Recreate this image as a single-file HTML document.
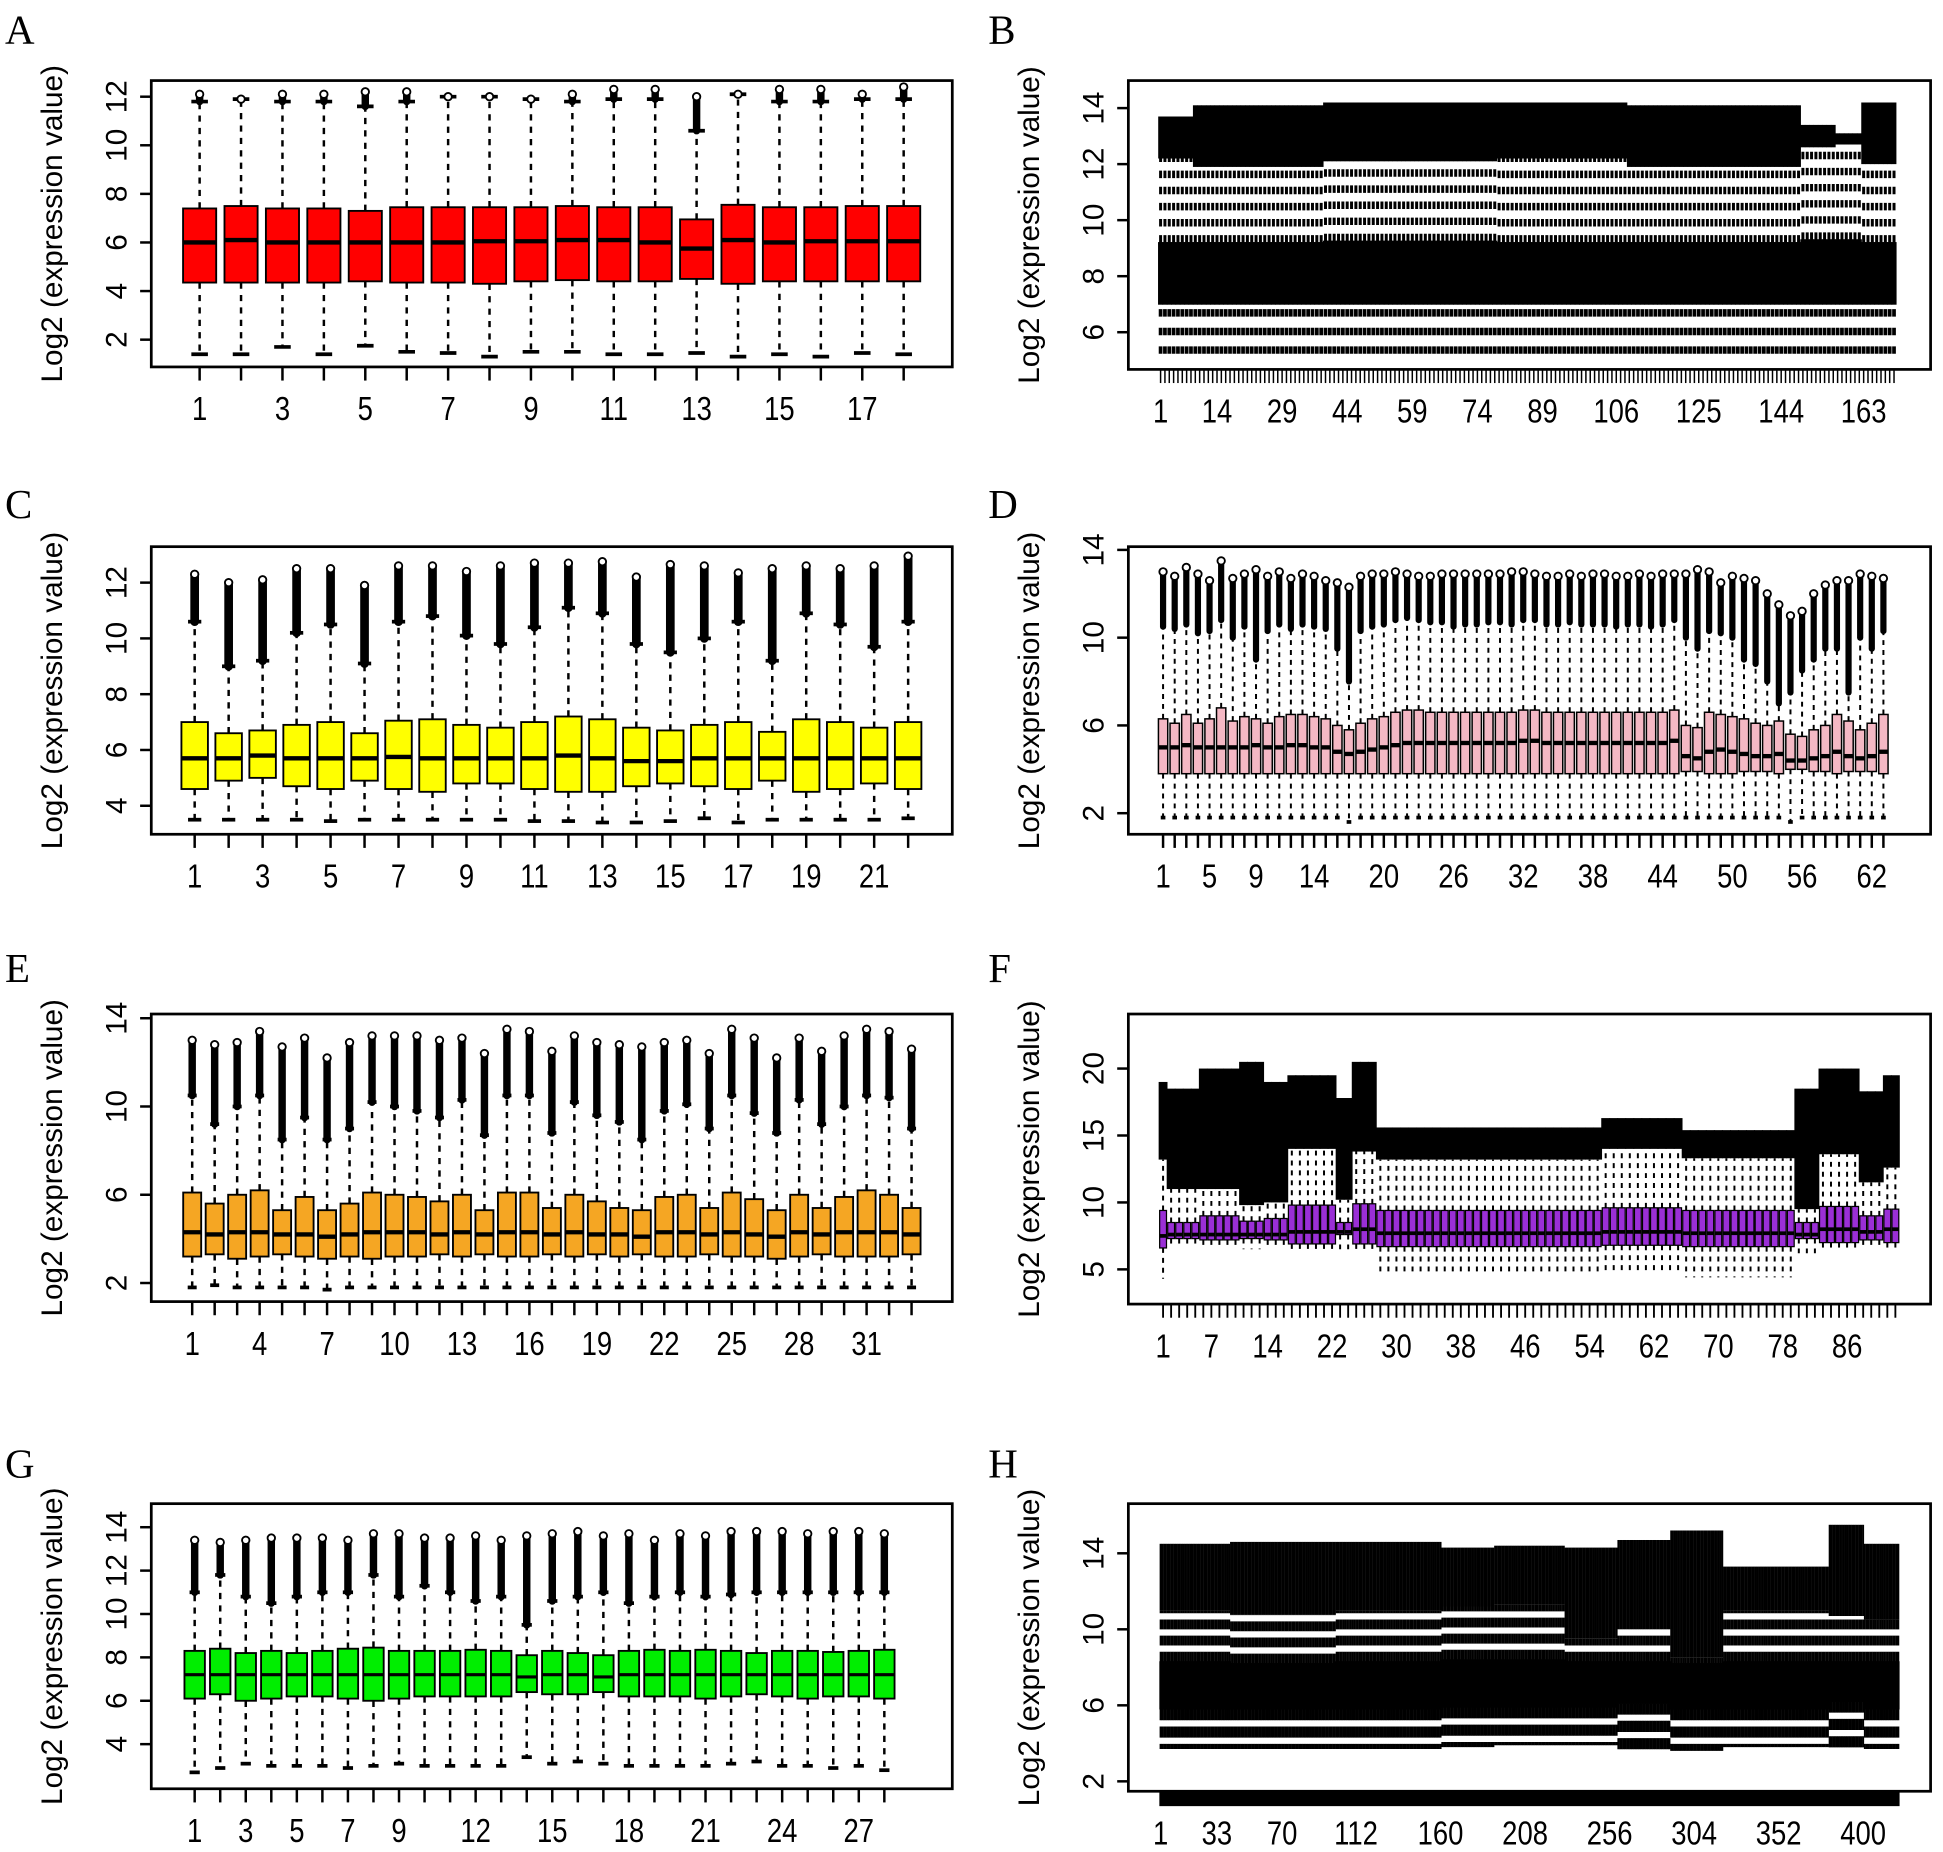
<!DOCTYPE html>
<html><head><meta charset="utf-8"><style>
html,body{margin:0;padding:0;background:#fff;}
svg{display:block;}
text{font-family:"Liberation Sans",sans-serif;}
</style></head><body>
<svg id="fig" width="1943" height="1852" viewBox="0 0 1567 1494" preserveAspectRatio="none" xmlns="http://www.w3.org/2000/svg"></svg>
<script>
// ===== Panel A (18 samples) =====
const aQ1=[4.35,4.35,4.35,4.35,4.4,4.35,4.35,4.3,4.4,4.45,4.4,4.4,4.5,4.3,4.4,4.4,4.4,4.4];
const aMed=[6.0,6.1,6.0,6.0,6.0,6.0,6.0,6.05,6.05,6.1,6.1,6.0,5.75,6.1,6.0,6.05,6.05,6.05];
const aQ3=[7.4,7.5,7.4,7.4,7.3,7.45,7.45,7.45,7.45,7.5,7.45,7.45,6.95,7.55,7.45,7.45,7.5,7.5];
const aLo=[1.4,1.4,1.7,1.4,1.75,1.5,1.45,1.3,1.5,1.5,1.4,1.4,1.45,1.3,1.4,1.3,1.45,1.4];
const aHi=[11.8,11.9,11.8,11.8,11.6,11.8,12.0,12.0,11.9,11.8,11.9,11.9,10.6,12.1,11.8,11.8,11.9,11.9];
const aTop=[12.1,11.9,12.1,12.1,12.2,12.2,12.0,12.0,11.9,12.1,12.3,12.3,12.0,12.1,12.3,12.3,12.1,12.4];
const aYTicks=[2,4,6,8,10,12];
const aXLabels=["1","3","5","7","9","11","13","15","17"];
// ===== Panel C (22 samples) =====
const cQ1=[4.6,4.9,5.0,4.7,4.6,4.9,4.6,4.5,4.8,4.8,4.6,4.5,4.5,4.7,4.8,4.7,4.6,4.9,4.5,4.6,4.8,4.6];
const cMed=[5.7,5.7,5.8,5.7,5.7,5.7,5.75,5.7,5.7,5.7,5.7,5.8,5.7,5.6,5.6,5.7,5.7,5.7,5.7,5.7,5.7,5.7];
const cQ3=[7.0,6.6,6.7,6.9,7.0,6.6,7.05,7.1,6.9,6.8,7.0,7.2,7.1,6.8,6.7,6.9,7.0,6.65,7.1,7.0,6.8,7.0];
const cLo=[3.5,3.5,3.5,3.5,3.45,3.5,3.5,3.5,3.5,3.5,3.45,3.45,3.4,3.4,3.45,3.55,3.4,3.5,3.5,3.5,3.5,3.55];
const cHi=[10.6,9.0,9.2,10.2,10.5,9.1,10.6,10.8,10.1,9.8,10.4,11.1,10.9,9.8,9.5,10.0,10.6,9.2,10.9,10.5,9.7,10.6];
const cTop=[12.3,12.0,12.1,12.5,12.5,11.9,12.6,12.6,12.4,12.6,12.7,12.7,12.75,12.2,12.65,12.6,12.35,12.5,12.6,12.5,12.6,12.95];
const cYTicks=[4,6,8,10,12];
const cXLabels=["1","3","5","7","9","11","13","15","17","19","21"];
// ===== Panel D (63 samples) =====
const dMed=[5.0,5.0,5.1,5.0,5.0,5.0,5.0,5.0,5.1,5.0,5.0,5.1,5.1,5.0,5.0,4.8,4.7,4.8,4.9,5.0,5.1,5.2,5.2,5.2,5.2,5.2,5.2,5.2,5.2,5.2,5.2,5.3,5.3,5.2,5.2,5.2,5.2,5.2,5.2,5.2,5.2,5.2,5.2,5.2,5.3,4.6,4.5,4.8,4.9,4.8,4.7,4.6,4.6,4.7,4.4,4.4,4.5,4.6,4.8,4.6,4.5,4.6,4.8];
const dQ3=[6.3,6.1,6.5,6.1,6.3,6.8,6.2,6.4,6.3,6.1,6.4,6.5,6.5,6.4,6.3,6.0,5.8,6.1,6.3,6.4,6.6,6.7,6.7,6.6,6.6,6.6,6.6,6.6,6.6,6.6,6.6,6.7,6.7,6.6,6.6,6.6,6.6,6.6,6.6,6.6,6.6,6.6,6.6,6.6,6.7,6.0,5.9,6.6,6.5,6.4,6.3,6.1,6.0,6.2,5.6,5.5,5.8,6.0,6.5,6.2,5.8,6.1,6.5];
const dQ1=[3.8,3.8,3.8,3.8,3.8,3.8,3.8,3.8,3.8,3.8,3.8,3.8,3.8,3.8,3.8,3.8,3.8,3.8,3.8,3.8,3.8,3.8,3.8,3.8,3.8,3.8,3.8,3.8,3.8,3.8,3.8,3.8,3.8,3.8,3.8,3.8,3.8,3.8,3.8,3.8,3.8,3.8,3.8,3.8,3.8,3.9,3.9,3.8,3.8,3.8,3.9,3.9,3.9,3.8,4.0,4.0,3.9,3.9,3.8,3.9,3.9,3.9,3.8];
const dLo=[1.8,1.8,1.8,1.8,1.8,1.8,1.8,1.8,1.8,1.8,1.8,1.8,1.8,1.8,1.8,1.8,1.6,1.8,1.8,1.8,1.8,1.8,1.8,1.8,1.8,1.8,1.8,1.8,1.8,1.8,1.8,1.8,1.8,1.8,1.8,1.8,1.8,1.8,1.8,1.8,1.8,1.8,1.8,1.8,1.8,1.8,1.8,1.8,1.8,1.8,1.8,1.8,1.8,1.8,1.6,1.8,1.8,1.8,1.8,1.8,1.8,1.8,1.8];
const dHi=[10.5,10.4,10.6,10.2,10.3,10.8,10.0,10.5,9.0,10.3,10.6,10.4,10.6,10.5,10.4,9.5,8.0,10.3,10.5,10.6,10.8,10.9,10.8,10.7,10.7,10.5,10.6,10.6,10.7,10.7,10.6,10.8,10.8,10.6,10.6,10.7,10.6,10.6,10.6,10.5,10.6,10.6,10.5,10.6,10.8,10.0,9.5,10.3,10.2,10.0,9.0,8.8,8.0,7.0,7.5,8.5,9.0,9.5,9.5,7.5,10.0,9.5,10.3];
const dTop=[13.0,12.8,13.2,12.9,12.6,13.5,12.7,12.9,13.1,12.8,13.0,12.7,12.9,12.8,12.6,12.5,12.3,12.8,12.9,12.9,13.0,12.9,12.8,12.8,12.9,12.9,12.9,12.9,12.9,12.9,13.0,13.0,12.9,12.8,12.8,12.9,12.8,12.9,12.9,12.8,12.8,12.9,12.8,12.9,12.9,12.9,13.1,13.0,12.5,12.8,12.7,12.6,12.0,11.5,11.0,11.2,12.0,12.4,12.6,12.6,12.9,12.8,12.7];
const dYTicks=[2,6,10,14];
const dXLabels=[["1",1],["5",5],["9",9],["14",14],["20",20],["26",26],["32",32],["38",38],["44",44],["50",50],["56",56],["62",62]];
// ===== Panel E (33 samples) =====
const eQ1=[3.2,3.3,3.1,3.2,3.3,3.2,3.1,3.2,3.1,3.2,3.2,3.3,3.2,3.3,3.2,3.2,3.3,3.2,3.3,3.2,3.3,3.2,3.2,3.3,3.2,3.2,3.1,3.2,3.3,3.2,3.2,3.2,3.3];
const eMed=[4.3,4.2,4.3,4.3,4.2,4.2,4.1,4.2,4.3,4.3,4.3,4.2,4.3,4.2,4.3,4.3,4.2,4.3,4.2,4.2,4.1,4.3,4.3,4.2,4.3,4.2,4.1,4.3,4.2,4.3,4.3,4.3,4.2];
const eQ3=[6.1,5.6,6.0,6.2,5.3,5.9,5.3,5.6,6.1,6.0,5.9,5.7,6.0,5.3,6.1,6.1,5.4,6.0,5.7,5.4,5.3,5.9,6.0,5.4,6.1,5.8,5.3,6.0,5.4,5.9,6.2,6.0,5.4];
const eLo=[1.8,1.9,1.8,1.8,1.8,1.8,1.7,1.8,1.8,1.8,1.8,1.8,1.8,1.8,1.8,1.8,1.8,1.8,1.8,1.8,1.8,1.8,1.8,1.8,1.8,1.8,1.8,1.8,1.8,1.8,1.8,1.8,1.8];
const eHi=[10.5,9.2,10.0,10.5,8.5,9.5,8.5,9.0,10.2,10.0,9.8,9.5,10.3,8.7,10.5,10.5,8.8,10.2,9.6,9.3,8.5,9.8,10.1,9.0,10.5,9.7,8.8,10.3,9.2,10.0,10.5,10.4,9.0];
const eTop=[13.0,12.8,12.9,13.4,12.7,13.1,12.2,12.9,13.2,13.2,13.2,13.0,13.1,12.4,13.5,13.4,12.5,13.2,12.9,12.8,12.7,12.9,13.0,12.4,13.5,13.1,12.2,13.1,12.5,13.2,13.5,13.4,12.6];
const eYTicks=[2,6,10,14];
const eXLabels=["1","4","7","10","13","16","19","22","25","28","31"];
// ===== Panel G (28 samples) =====
const gQ1=[6.1,6.3,6.0,6.1,6.2,6.2,6.1,6.0,6.1,6.2,6.2,6.2,6.2,6.4,6.3,6.3,6.4,6.2,6.2,6.2,6.1,6.2,6.3,6.2,6.1,6.2,6.2,6.1];
const gMed=[7.2,7.2,7.2,7.2,7.2,7.2,7.2,7.2,7.2,7.2,7.2,7.2,7.2,7.1,7.2,7.2,7.1,7.2,7.2,7.2,7.2,7.2,7.2,7.2,7.2,7.2,7.2,7.2];
const gQ3=[8.3,8.4,8.2,8.3,8.2,8.3,8.4,8.45,8.3,8.3,8.3,8.35,8.3,8.1,8.3,8.2,8.1,8.3,8.35,8.3,8.35,8.3,8.2,8.3,8.3,8.25,8.3,8.35];
const gLo=[2.7,2.9,3.1,3.0,3.0,3.0,2.9,3.0,3.1,3.0,3.0,3.0,3.0,3.4,3.1,3.2,3.1,3.0,3.0,3.0,3.0,3.1,3.2,3.0,3.0,2.9,3.0,2.8];
const gHi=[11.0,11.8,10.8,10.5,10.8,11.0,11.0,11.8,10.8,11.3,11.0,10.6,10.8,9.5,10.6,10.8,11.0,10.5,10.8,11.0,10.8,10.9,11.0,11.0,11.0,11.0,11.0,11.0];
const gTop=[13.4,13.3,13.4,13.5,13.5,13.5,13.4,13.7,13.7,13.5,13.5,13.6,13.4,13.6,13.7,13.8,13.6,13.7,13.4,13.7,13.6,13.8,13.8,13.8,13.7,13.8,13.8,13.7];
const gYTicks=[4,6,8,10,12,14];
const gXLabels=["1","3","5","7","9","12","15","18","21","24","27"];
const gXLabelIdx=[1,3,5,7,9,12,15,18,21,24,27];
// ===== Panel B (170 samples, grouped runs) =====
const bCounts=[8,30,40,30,40,8,6,8];
const bQ1=[7.0,7.0,7.0,7.0,7.0,7.0,7.0,7.0];
const bMed=[8.2,8.2,8.2,8.2,8.2,8.2,8.2,8.2];
const bQ3=[9.2,9.2,9.25,9.2,9.2,9.3,9.3,9.2];
const bLo=[5.1,5.1,5.1,5.1,5.1,5.1,5.1,5.1];
const bHi=[12.2,11.9,12.1,12.2,11.9,12.6,12.7,12.0];
const bTop=[13.7,14.1,14.2,14.2,14.1,13.4,13.1,14.2];
const bYTicks=[6,8,10,12,14];
const bXLabels=[["1",1],["14",14],["29",29],["44",44],["59",59],["74",74],["89",89],["106",106],["125",125],["144",144],["163",163]];
// ===== Panel F (92 samples, grouped runs) =====
const fCounts=[1,4,5,3,3,6,2,3,28,10,14,3,5,3,2];
const fQ1=[6.6,7.3,7.2,7.3,7.2,6.9,7.6,6.9,6.7,6.8,6.7,7.3,7.0,7.2,7.0];
const fMed=[7.5,7.6,7.6,7.6,7.6,7.8,7.8,8.0,7.7,7.8,7.7,7.6,8.0,7.8,8.0];
const fQ3=[9.4,8.5,9.0,8.6,8.8,9.8,8.5,9.9,9.4,9.6,9.4,8.5,9.7,9.0,9.5];
const fLo=[4.3,6.6,6.6,6.5,6.8,6.3,6.5,6.5,4.5,4.6,4.4,6.2,6.5,6.5,6.6];
const fHi=[13.2,11.0,11.0,9.8,10.0,14.0,10.2,13.8,13.2,14.0,13.3,9.5,13.6,11.5,12.6];
const fTop=[19.0,18.5,20.0,20.5,19.0,19.5,17.8,20.5,15.6,16.3,15.4,18.5,20.0,18.3,19.5];
const fYTicks=[5,10,15,20];
const fXLabels=[["1",1],["7",7],["14",14],["22",22],["30",30],["38",38],["46",46],["54",54],["62",62],["70",70],["78",78],["86",86]];
// ===== Panel H (420 samples, grouped runs) =====
const hCounts=[40,60,60,30,40,30,30,30,30,30,20,20];
const hQ1=[5.8,5.8,5.8,5.9,5.9,5.9,6.1,5.8,5.8,5.8,6.2,5.8];
const hMed=[7.0,7.0,7.0,7.1,7.1,7.0,7.2,7.0,7.0,7.0,7.2,7.0];
const hQ3=[8.3,8.2,8.3,8.4,8.4,8.3,8.3,8.2,8.3,8.3,8.3,8.3];
const hLo=[3.7,3.7,3.7,3.8,3.9,3.9,3.6,3.6,3.8,3.8,3.7,3.7];
const hHi=[11.0,10.8,11.0,11.2,11.3,9.5,10.0,8.5,11.0,11.0,10.7,10.5];
const hTop=[14.5,14.6,14.6,14.3,14.4,14.3,14.7,15.2,13.3,13.3,15.5,14.5];
const hYTicks=[2,6,10,14];
const hXLabels=[["1",1],["33",33],["70",70],["112",112],["160",160],["208",208],["256",256],["304",304],["352",352],["400",400]];

const NS="http://www.w3.org/2000/svg";
const svg=document.getElementById('fig');
function mk(tag,attrs,parent){const e=document.createElementNS(NS,tag);for(const k in attrs)e.setAttribute(k,attrs[k]);(parent||svg).appendChild(e);return e;}
function expand(counts,arr){const out=[];counts.forEach((c,i)=>{for(let j=0;j<c;j++)out.push(arr[i]);});return out;}

function panel(p){
  const g=mk('g',{});
  
  
  const n=p.q1.length;
  const yS=v=>p.y0px-(v-p.y0v)*p.ppu;
  const xS=i=>p.x1+(i-1)*p.dx;
  const bw=p.dx*p.bwf;
  const lt=mk('text',{x:p.lx,y:p.ly,'font-size':33,style:'font-family:"Liberation Serif",serif'},g);
  lt.textContent=p.id;
  
  
  const cy=(p.top+p.bot)/2;
  const yt=mk('text',{x:0,y:0,'font-size':24,'text-anchor':'middle',transform:`translate(${p.left-72},${cy}) rotate(-90)`},g);
  yt.textContent='Log2 (expression value)';
  
  
  const marks=mk('g',{},g);
  
  
  const dash=p.dash||'5,5';
  for(let k=0;k<n;k++){
    const i=k+1,x=xS(i);
    const bg=mk('g',{},marks);
    
    
    mk('line',{x1:x,x2:x,y1:yS(p.q3[k]),y2:yS(p.hi[k]),stroke:'#000','stroke-width':p.wl||2,'stroke-dasharray':dash},bg);
    mk('line',{x1:x,x2:x,y1:yS(p.q1[k]),y2:yS(p.lo[k]),stroke:'#000','stroke-width':p.wlo||p.wl||2,'stroke-dasharray':p.dashLo||dash,'stroke-dashoffset':p.offLo||0},bg);
    if(!p.dense){
      mk('line',{x1:x-bw*0.25,x2:x+bw*0.25,y1:yS(p.lo[k]),y2:yS(p.lo[k]),stroke:'#000','stroke-width':3},bg);
      mk('line',{x1:x-bw*0.25,x2:x+bw*0.25,y1:yS(p.hi[k]),y2:yS(p.hi[k]),stroke:'#000','stroke-width':3},bg);
      if(p.top_[k]>p.hi[k]+0.05){
        mk('line',{x1:x,x2:x,y1:yS(p.hi[k]),y2:yS(p.top_[k]),stroke:'#000','stroke-width':p.ow||6,'stroke-linecap':'round'},bg);
      }
      mk('circle',{cx:x,cy:yS(p.top_[k]),r:3,fill:'#fff',stroke:'#000','stroke-width':1.5},bg);
    } else {
      mk('rect',{x:x-p.dx*0.55,y:yS(p.top_[k]),width:p.dx*1.1,height:yS(p.hi[k])-yS(p.top_[k]),fill:'#000'},bg);
    }
    mk('rect',{x:x-bw/2,y:yS(p.q3[k]),width:bw,height:yS(p.q1[k])-yS(p.q3[k]),fill:p.fill,stroke:'#000','stroke-width':p.bs||1.5},bg);
    mk('line',{x1:x-bw/2,x2:x+bw/2,y1:yS(p.med[k]),y2:yS(p.med[k]),stroke:p.medc||'#000','stroke-width':p.mw||3.5},bg);
  }
  const fr=mk('rect',{x:p.left,y:p.top,width:p.right-p.left,height:p.bot-p.top,fill:'none',stroke:'#000','stroke-width':2.2},g);
  
  
  const ya=mk('g',{},g);
  
  
  mk('line',{x1:p.left,x2:p.left,y1:yS(p.yt[0]),y2:yS(p.yt[p.yt.length-1]),stroke:'#000','stroke-width':1.5},ya);
  p.yt.forEach(v=>{
    const y=yS(v);
    mk('line',{x1:p.left-9,x2:p.left,y1:y,y2:y,stroke:'#000','stroke-width':2},ya);
    const t=mk('text',{x:0,y:0,'font-size':24,'text-anchor':'middle',transform:`translate(${p.left-20},${y}) rotate(-90)`},ya);
    t.textContent=String(v);
  });
  const xa=mk('g',{},g);
  
  
  if(p.tickBand){
    mk('rect',{x:xS(1)-1,y:p.bot+1,width:xS(n)-xS(1)+2,height:11,fill:'#000'},xa);
  } else {
    mk('line',{x1:xS(1),x2:xS(n),y1:p.bot,y2:p.bot,stroke:'#000','stroke-width':1.5},xa);
    for(let i=1;i<=n;i++)mk('line',{x1:xS(i),x2:xS(i),y1:p.bot,y2:p.bot+11,stroke:'#000','stroke-width':p.tw||2},xa);
  }
  p.xl.forEach(([lab,i])=>{
    const t=mk('text',{x:0,y:0,'font-size':27,'text-anchor':'middle',transform:`translate(${xS(i)},${p.bot+43}) scale(0.82,1)`},xa);
    t.textContent=lab;
  });
}
function pairs(labels,idx){return labels.map((l,i)=>[l,idx[i]]);}

panel({id:'A',lx:4,ly:35,left:122,right:768,top:65,bot:296,y0v:2,y0px:274,ppu:19.6,x1:161,dx:33.4,bwf:0.8,
  q1:aQ1,med:aMed,q3:aQ3,lo:aLo,hi:aHi,top_:aTop,yt:aYTicks,xl:pairs(aXLabels,[1,3,5,7,9,11,13,15,17]),fill:'#ff0000'});
panel({id:'C',lx:4,ly:418,left:122,right:768,top:441,bot:673,y0v:4,y0px:650,ppu:22.5,x1:157,dx:27.4,bwf:0.78,
  q1:cQ1,med:cMed,q3:cQ3,lo:cLo,hi:cHi,top_:cTop,yt:cYTicks,xl:pairs(cXLabels,[1,3,5,7,9,11,13,15,17,19,21]),fill:'#ffff00',ow:7});
panel({id:'E',lx:4,ly:792,left:122,right:768,top:818,bot:1050,y0v:2,y0px:1035,ppu:17.8,x1:155,dx:18.13,bwf:0.8,
  q1:eQ1,med:eMed,q3:eQ3,lo:eLo,hi:eHi,top_:eTop,yt:eYTicks,xl:pairs(eXLabels,[1,4,7,10,13,16,19,22,25,28,31]),fill:'#f5a623',ow:6});
panel({id:'G',lx:4,ly:1192,left:122,right:768,top:1213,bot:1443,y0v:4,y0px:1407,ppu:17.5,x1:157,dx:20.6,bwf:0.8,
  q1:gQ1,med:gMed,q3:gQ3,lo:gLo,hi:gHi,top_:gTop,yt:gYTicks,xl:pairs(gXLabels,gXLabelIdx),fill:'#00ee00',ow:6,mw:2.5});
panel({id:'D',lx:797,ly:418,left:910,right:1557,top:441,bot:673,y0v:2,y0px:656,ppu:17.7,x1:938,dx:9.37,bwf:0.8,
  q1:dQ1,med:dMed,q3:dQ3,lo:dLo,hi:dHi,top_:dTop,yt:dYTicks,xl:dXLabels,fill:'#f4b8c4',ow:5,bs:1.2,wl:1.6,dash:'4,4'});
panel({id:'B',lx:797,ly:35,left:910,right:1557,top:65,bot:298,y0v:6,y0px:268,ppu:22.6,x1:936,dx:3.5,bwf:0.95,dense:true,tw:1.2,
  q1:expand(bCounts,bQ1),med:expand(bCounts,bMed),q3:expand(bCounts,bQ3),lo:expand(bCounts,bLo),hi:expand(bCounts,bHi),top_:expand(bCounts,bTop),
  yt:bYTicks,xl:bXLabels,fill:'#000',medc:'#000',mw:2,bs:0.8,wl:2.4,wlo:3,dash:'6,7',dashLo:'6,9',offLo:11});
panel({id:'F',lx:797,ly:792,left:910,right:1557,top:818,bot:1052,y0v:5,y0px:1024,ppu:10.8,x1:938,dx:6.49,bwf:0.85,dense:true,tw:1.5,
  q1:expand(fCounts,fQ1),med:expand(fCounts,fMed),q3:expand(fCounts,fQ3),lo:expand(fCounts,fLo),hi:expand(fCounts,fHi),top_:expand(fCounts,fTop),
  yt:fYTicks,xl:fXLabels,fill:'#9a2fd6',bs:1,wl:1.6,dash:'4,4',mw:3});
panel({id:'H',lx:797,ly:1192,left:910,right:1557,top:1213,bot:1445,y0v:2,y0px:1437,ppu:15.33,x1:936,dx:1.42,bwf:1.0,dense:true,tickBand:true,
  q1:expand(hCounts,hQ1),med:expand(hCounts,hMed),q3:expand(hCounts,hQ3),lo:expand(hCounts,hLo),hi:expand(hCounts,hHi),top_:expand(hCounts,hTop),
  yt:hYTicks,xl:hXLabels,fill:'#000',mw:1,bs:0.6,wl:1.5,wlo:1.6,dash:'8,5',dashLo:'9,5'});
</script>
</body></html>
